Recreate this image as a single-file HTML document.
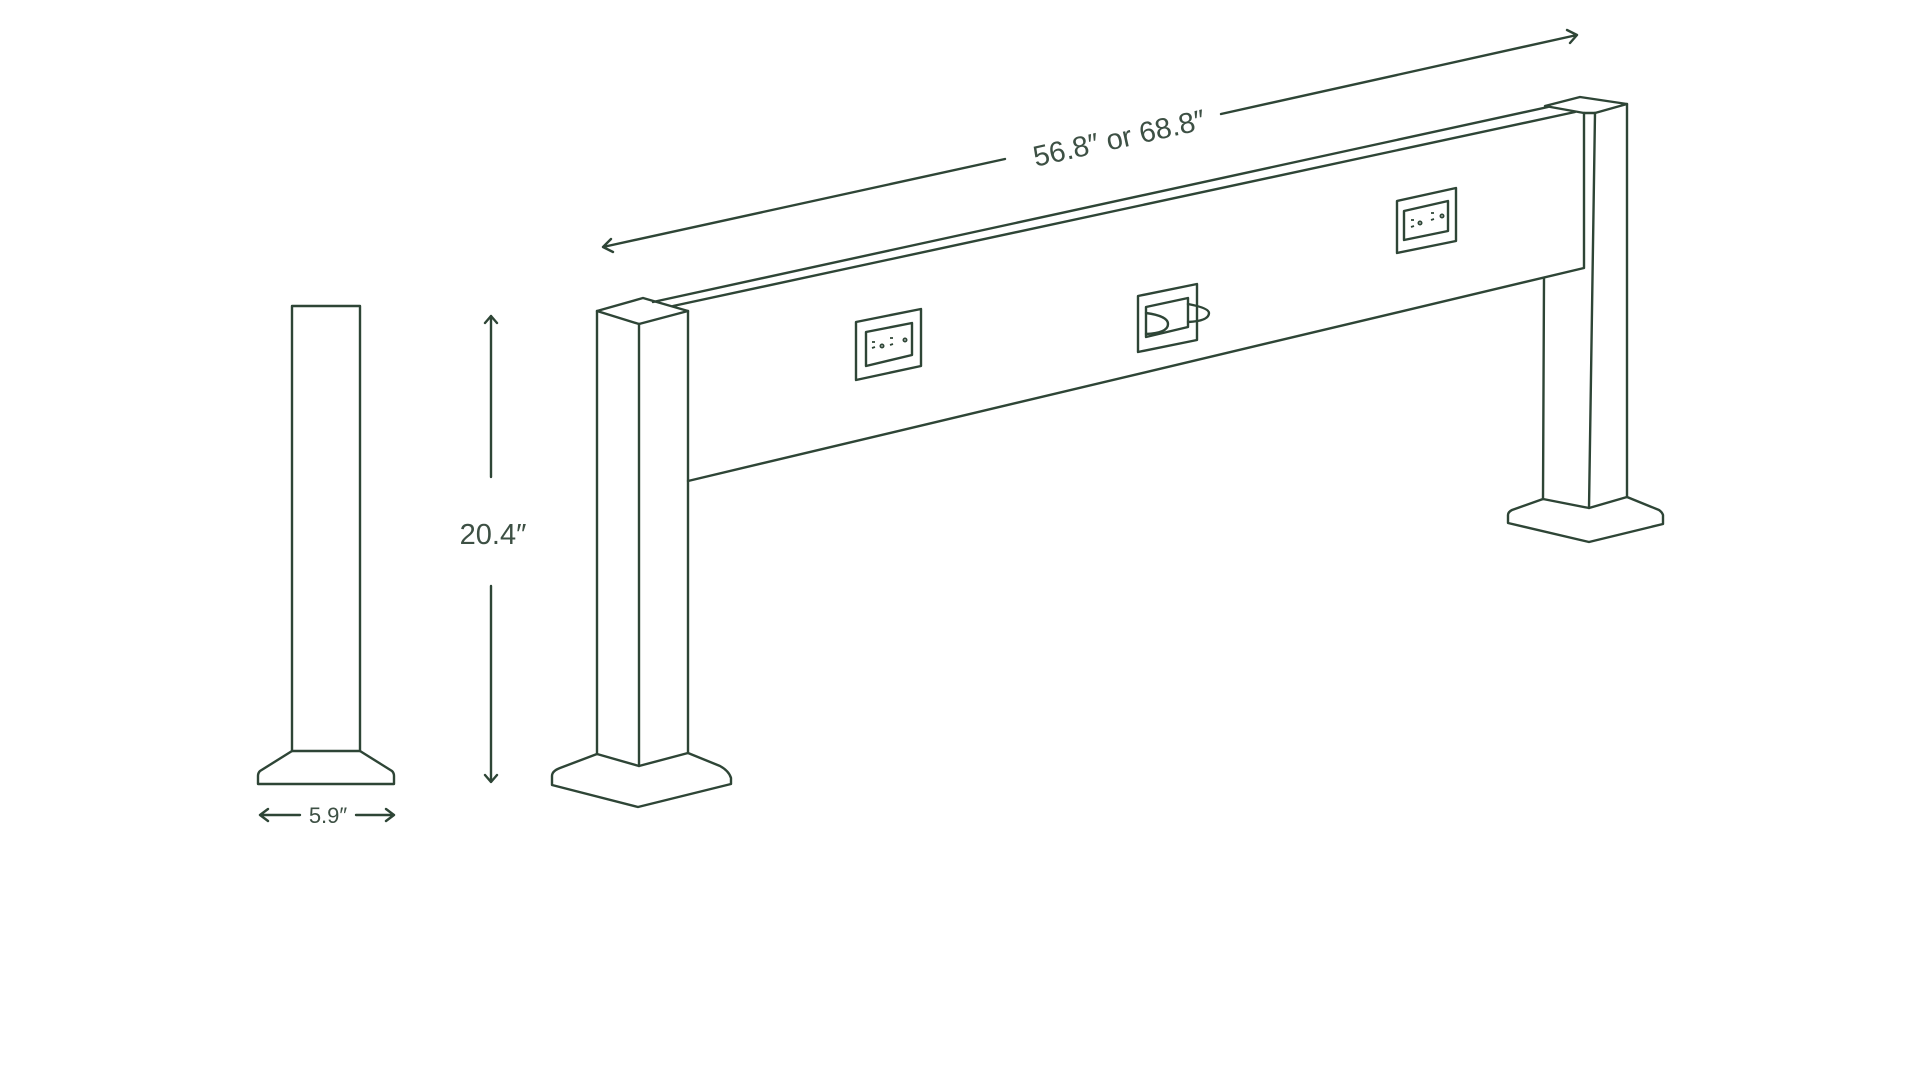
<!DOCTYPE html>
<html><head><meta charset="utf-8"><style>
html,body{margin:0;padding:0;background:#fff;}
svg{display:block;}
text{font-family:"Liberation Sans",sans-serif;fill:#3d5044;}
</style></head><body>
<svg width="1920" height="1083" viewBox="0 0 1920 1083" xmlns="http://www.w3.org/2000/svg">
<g fill="none" stroke="#2e4536" stroke-width="2.4" stroke-linejoin="round" stroke-linecap="round">
<rect x="292" y="306" width="68" height="445"/>
<path d="M292 751 L260 771 Q258 773 258 776 L258 784 L394 784 L394 776 Q394 773 392 771 L360 751"/>
<path d="M260 815 L300 815 M356 815 L394 815 M268 809 L260 815 L268 821 M386 809 L394 815 L386 821"/>
<path d="M491 316 L491 477 M491 586 L491 782 M485 323 L491 316 L497 323 M485 775 L491 782 L497 775"/>
<path d="M603 247 L1005 159 M1221 114 L1577 35 M611 239 L603 247 L613 252 M1567 30 L1577 35 L1570 43"/>
<path d="M597 311 L643 298 L688 311 L639 324 Z"/>
<path d="M597 311 L597 754 M639 324 L639 766 M688 311 L688 753"/>
<path d="M597 754 L639 766 L688 753"/>
<path d="M597 754 L560 768 Q552 771 552 776 L552 785 L638 807 L731 784 L731 778 Q729 771 720 766 L688 753"/>
<path d="M653 302 L1548 107 M673 306 L1575 112 M688 481 L1584 268 M1584 113 L1584 268"/>
<path d="M1545 106 L1580 97 L1627 104 L1595 113 L1584 113 Z"/>
<path d="M1595 113 L1589 508 M1627 104 L1627 497 M1544 278 L1543 499"/>
<path d="M1543 499 L1589 508 L1627 497"/>
<path d="M1543 499 L1512 510 Q1508 512 1508 515 L1508 523 L1589 542 L1663 524 L1663 515 Q1662 512 1659 510 L1627 497"/>
<path d="M856 322 L921 309 L921 366 L856 380 Z"/>
<path d="M866 332 L912 323 L912 355 L866 366 Z"/>
<path d="M1138 296 L1197 284 L1197 340 L1138 352 Z"/>
<path d="M1146 307 L1188 298 L1188 327 L1146 337 Z"/>
<path d="M1146 313 Q1168 316 1168 324 Q1168 333 1146 334"/>
<path d="M1188 304 Q1209 308 1209 313 Q1209 321 1188 322"/>
<path d="M1397 201 L1456 188 L1456 241 L1397 253 Z"/>
<path d="M1404 211 L1448 201 L1448 231 L1404 240 Z"/>
</g>
<g stroke="#2e4536" stroke-width="1.8" fill="none">
<path d="M872 342 L875 342 M872 348 L875 347 M890 338 L893 338 M890 345 L893 344 M1411 220 L1414 220 M1411 227 L1414 226 M1431 213 L1434 213 M1431 220 L1434 219"/>
<circle cx="882" cy="346" r="1.6"/><circle cx="905" cy="340" r="1.6"/>
<circle cx="1420" cy="223" r="1.6"/><circle cx="1442" cy="216" r="1.6"/>
</g>
<text x="328" y="823" font-size="22" text-anchor="middle">5.9″</text>
<text x="493" y="544" font-size="29" text-anchor="middle">20.4″</text>
<text x="1119" y="148" font-size="29" text-anchor="middle" transform="rotate(-12.5 1119 138)">56.8″ or 68.8″</text>
</svg>
</body></html>
